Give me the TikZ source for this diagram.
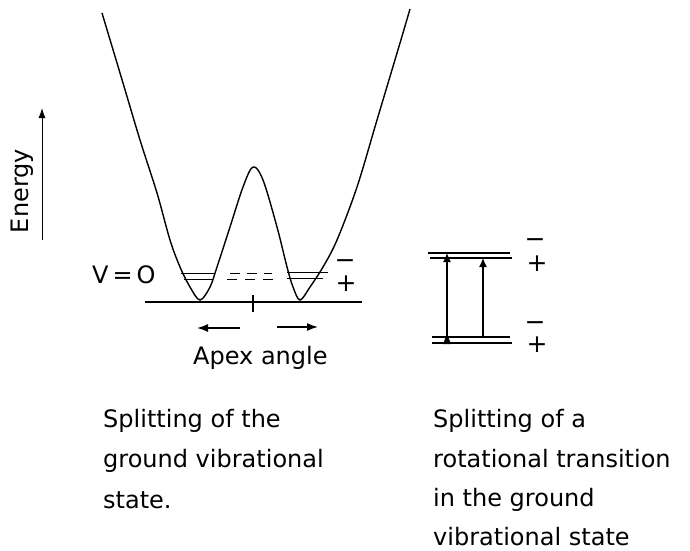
\documentclass[tikz,border=0pt]{standalone}
\usepackage{fontspec}
\setmainfont{DejaVu Sans}
\usetikzlibrary{arrows.meta}
\begin{document}
\begin{tikzpicture}[x=1pt,y=-1pt,
  lbl/.style={inner sep=0pt,font=\fontsize{24}{24}\selectfont},
  sgn/.style={inner sep=0pt,font=\fontsize{25}{25}\selectfont},
  curve/.style={line width=1.4pt},
  level/.style={line width=0.9pt},
  lvl/.style={line width=1.8pt},
  trans/.style={line width=1.3pt,-{Latex[length=9pt,width=8pt]}},
  apex/.style={line width=1.4pt,-{Latex[length=11pt,width=8pt]}}]
\useasboundingbox (0,0) rectangle (690,550);
% potential curve
\draw[curve] plot[smooth,tension=0.55] coordinates {
 (102,13) (123,83) (140,140) (157,193) (170,240) (180,267) (190,287) (200,300)
 (210,287) (217,267) (230,227) (243,187) (253,167) (263,180) (277,227) (287,267) (293,287)
 (300,300) (310,287) (323,267) (337,240) (357,187) (377,120) (400,43) (410,9)};
% baseline and tick
\coordinate (b1) at (145,302); \coordinate (b2) at (362,302);
\draw[line width=1.8pt] (b1) -- (b2);
\coordinate (t1) at (253,295); \coordinate (t2) at (253,312);
\draw[line width=1.5pt] (t1) -- (t2);
% levels in wells
\coordinate (lu1) at (181,273); \coordinate (lu2) at (215,273);
\coordinate (ll1) at (184,279); \coordinate (ll2) at (213,279);
\coordinate (ru1) at (287,272); \coordinate (ru2) at (328,272);
\coordinate (rl1) at (287,278); \coordinate (rl2) at (323,278);
\draw[level] (lu1) -- (lu2); \draw[level] (ll1) -- (ll2);
\draw[level] (ru1) -- (ru2); \draw[level] (rl1) -- (rl2);
\coordinate (du1) at (230,273); \coordinate (du2) at (272,273);
\coordinate (dl1) at (227,279); \coordinate (dl2) at (273,279);
\draw[level,dash pattern=on 10pt off 7pt] (du1) -- (du2);
\draw[level,dash pattern=on 10pt off 8pt] (dl1) -- (dl2);
% labels near wells
\node[lbl,anchor=west] (v0) at (92,275) {V\,=\,O};
\node[sgn] (wm) at (345,264) {−};
\node[sgn] (wp) at (346,284) {+};
% apex angle arrows
\coordinate (al1) at (240,328); \coordinate (al2) at (197,328);
\coordinate (ar1) at (277,327); \coordinate (ar2) at (318,327);
\draw[apex] (al1) -- (al2);
\draw[apex] (ar1) -- (ar2);
\node[lbl,anchor=base west] (apex) at (193,364) {Apex angle};
% energy axis
\coordinate (e1) at (42,240); \coordinate (e2) at (42,108);
\draw[line width=1pt,-{Latex[length=10pt,width=7pt]}] (e1) -- (e2);
\node[lbl,rotate=90] (energy) at (22,191) {Energy};
% rotational transition diagram
\coordinate (tu1) at (428,253); \coordinate (tu2) at (510,253);
\coordinate (tl1) at (430,258); \coordinate (tl2) at (512,258);
\coordinate (bu1) at (432,337); \coordinate (bu2) at (510,337);
\coordinate (bl1) at (432,343); \coordinate (bl2) at (512,343);
\draw[lvl] (tu1) -- (tu2); \draw[lvl] (tl1) -- (tl2);
\draw[lvl] (bu1) -- (bu2); \draw[lvl] (bl1) -- (bl2);
\coordinate (a1s) at (447,343); \coordinate (a1e) at (447,253);
\coordinate (a2s) at (483,337); \coordinate (a2e) at (483,258);
\draw[trans] (a1s) -- (a1e);
\draw[trans] (a2s) -- (a2e);
\fill (443,344) -- (451,344) -- (447,334) -- cycle;
\node[sgn] (tm) at (535,243) {−};
\node[sgn] (tp) at (537,264) {+};
\node[sgn] (bm) at (535,326) {−};
\node[sgn] (bp) at (537,345) {+};
% captions
\node[lbl,anchor=base west] (c1) at (103,427) {Splitting of the};
\node[lbl,anchor=base west] (c2) at (103,467) {ground vibrational};
\node[lbl,anchor=base west] (c3) at (103,508) {state.};
\node[lbl,anchor=base west] (d1) at (433,427) {Splitting of a};
\node[lbl,anchor=base west] (d2) at (433,467) {rotational transition};
\node[lbl,anchor=base west] (d3) at (433,506) {in the ground};
\node[lbl,anchor=base west] (d4) at (433,545) {vibrational state};
\end{tikzpicture}
\end{document}
